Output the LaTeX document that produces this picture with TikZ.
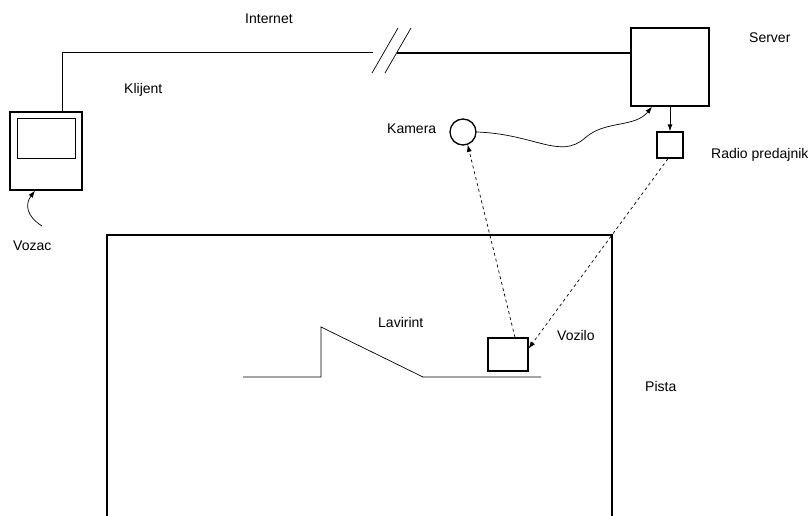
\documentclass[tikz,border=0pt]{standalone}
\usepackage{fontspec}
\setmainfont{Liberation Sans}
\usepackage{tikz}
\usetikzlibrary{positioning}
\usetikzlibrary{calc}
\usetikzlibrary{arrows.meta}

\begin{document}
\begin{tikzpicture}[x=1pt, y=-1pt,
    box/.style={draw, line width=1.3pt, inner sep=0pt},
    thin line/.style={line width=0.7pt},
    label text/.style={font=\fontsize{14}{16}\selectfont, inner sep=0pt, anchor=west},
    tip/.style={-{Latex[length=7pt, width=5pt]}}]

    \useasboundingbox (0,0) rectangle (811,516);

    % devices
    \node [box, minimum width=72pt, minimum height=78pt] (client) at (46,151) {};
    \node [draw, line width=0.7pt, minimum width=58pt, minimum height=40pt, inner sep=0pt] (screen) at (46,138) {};
    \node [box, minimum width=78pt, minimum height=78pt] (server) at (670,67) {};
    \node [box, minimum width=26pt, minimum height=26pt] (radio) at (670,145) {};
    \node [box, circle, minimum size=26pt] (camera) at (463,132) {};
    \node [box, minimum width=40pt, minimum height=33pt] (vehicle) at (508,354.5) {};

    % labels
    \node [label text] (internet) at (245,19) {Internet};
    \node [label text] (klijent) at (124,90) {Klijent};
    \node [label text] (srvlabel) at (749,38) {Server};
    \node [label text] (kamera) at (387,129) {Kamera};
    \node [label text] (radiolabel) at (711,155) {Radio predajnik};
    \node [label text] (vozac) at (13,246) {Vozac};
    \node [label text] (lavirint) at (378,322) {Lavirint};
    \node [label text] (vozilo) at (557,335) {Vozilo};
    \node [label text] (pista) at (645,386) {Pista};

    % internet link
    \coordinate (brk1) at (373,53);
    \coordinate (brk2) at (397,53);
    \draw [thin line, line width=1pt] ([xshift=16pt]client.north) |- (brk1);
    \draw [thin line] (372,73) -- (398,28);
    \draw [thin line] (385,73) -- (411,28);
    \draw [line width=2.6pt] (brk2) -- ([yshift=14pt]server.west);

    % server and radio
    \draw [tip, line width=0.9pt] (server.south) -- (radio.north);
    \draw [tip, thin line] (camera.east) .. controls (535,134) and (560,160) .. (585,138)
        .. controls (605,120) and (635,128) .. ([xshift=-18pt]server.south);

    % wireless links
    \draw [tip, thin line, dashed] ([xshift=7pt]vehicle.north) -- (camera.-70);
    \draw [tip, thin line, dashed] ([xshift=-2pt]radio.south) -- ([yshift=6pt]vehicle.east);

    % driver
    \coordinate (drv) at (42,226);
    \draw [tip, thin line] (drv) .. controls (26,216) and (25,204) .. ([xshift=-11pt]client.south);

    % track
    \draw [line width=1.3pt] (107,520) -- (107,235) -- (612,235) -- (612,520);
    \draw [thin line] (243,377) -- (321,377) -- (321,327) -- (423,377) -- (541,377);

\end{tikzpicture}
\end{document}
